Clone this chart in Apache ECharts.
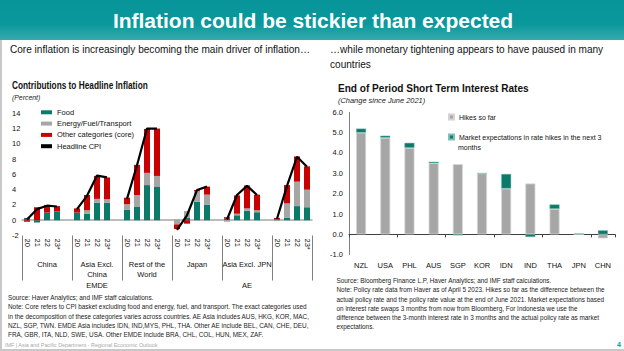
<!DOCTYPE html>
<html>
<head>
<meta charset="utf-8">
<script src="https://cdn.jsdelivr.net/npm/echarts@6/dist/echarts.min.js"></script>
<style>
  html, body { margin: 0; padding: 0; background: #fff; }
  #chart { width: 624px; height: 351px; }
</style>
</head>
<body>
<div id="chart"></div>
<script>
  // left panel: contributions to headline inflation (percent)
  const years = ["20", "21", "22", "23*"];
  const groups = ["China", "Asia Excl.\nChina", "Rest of the\nWorld", "Japan", "Asia Excl. JPN", "Rest of the\nWorld"];
  const regions = ["EMDE", "AE"];
  // 4 values per group, same order as groups
  const food = [0.3, -0.3, 1.0, 1.15, 1.0, 0.85, 2.3, 2.3, 1.4, 1.8, 4.6, 4.35, 0.05, 0.3, 2.4, 2.05, 0.2, 0.65, 1.25, 1.05, 0.1, 0.35, 1.85, 1.7];
  const energy = [0, 0, 0, 0, 0, 0.45, 0.5, 0.45, 0.7, 1.5, 1.6, 1.45, -0.55, 0.9, 1.4, 1.3, -0.2, 0.2, 0.3, 0.25, 0, 1.85, 3.2, 2.3];
  const core = [-0.2, 1.7, 1.0, 0.7, 0.55, 2.0, 3.0, 2.85, 0.85, 3.95, 5.75, 6.2, -0.6, -0.45, 0.15, 1.05, 0.2, 2.4, 3.0, 2.05, 0.2, 2.4, 3.3, 3.05];
  const headline = [0.1, 1.45, 1.9, 1.8, 1.45, 3.2, 5.85, 5.6, 2.8, 7.2, 12.0, 12.0, -1.25, 0.65, 3.95, 4.4, 0.1, 3.3, 4.5, 3.3, 0.2, 4.5, 8.3, 7.0];

  // right panel: short term rates, change since June 2021
  const countries = ["NZL", "USA", "PHL", "AUS", "SGP", "KOR", "IDN", "IND", "THA", "JPN", "CHN"];
  const hikes = [5.0, 4.75, 4.25, 3.5, 3.45, 3.0, 2.25, 2.5, 1.25, 0, -0.2];
  const expectations = [0.2, 0.1, 0.25, 0.07, -0.05, 0, 0.72, -0.13, 0.22, 0.04, 0.2];

  const FONT = "'Liberation Sans', Arial, sans-serif";
  const FOOD = "#0b7a68";
  const GREY = "#a6a6a6";
  const RED = "#c80000";
  const TEAL = "#08979b";

  // one slot per year, a blank slot between groups
  const slots = [];
  groups.forEach((g, gi) => {
    years.forEach((y) => slots.push(gi + "|" + y));
    if (gi < groups.length - 1) slots.push(gi + "|");
  });
  const toSlots = (arr) => {
    const out = [];
    groups.forEach((g, gi) => {
      for (let k = 0; k < years.length; k++) out.push(arr[gi * years.length + k]);
      if (gi < groups.length - 1) out.push("-");
    });
    return out;
  };
  const groupLabelIdx = [2, 7, 12, 17, 22, 26];
  const regionLabelIdx = [7, 22];

  // text squeezed a little to look like the narrow font of the slide
  const txt = (x, y, text, font, fill, align, sx) => ({
    type: "text",
    x: x,
    y: y,
    scaleX: sx || 1,
    style: { text: text, font: font, fill: fill || "#111", align: align || "left", verticalAlign: "middle" },
  });

  const notesLeft = [
    "Source: Haver Analytics; and IMF staff calculations.",
    "Note: Core refers to CPI basket excluding food and energy, fuel, and transport. The exact categories used",
    "in the decomposition of these categories varies across countries. AE Asia includes AUS, HKG, KOR, MAC,",
    "NZL, SGP, TWN. EMDE Asia includes IDN, IND,MYS, PHL, THA. Other AE include BEL, CAN, CHE, DEU,",
    "FRA, GBR, ITA, NLD, SWE, USA. Other EMDE include BRA, CHL, COL, HUN, MEX, ZAF.",
  ];
  const notesRight = [
    "Source: Bloomberg Finance L.P, Haver Analytics; and IMF staff calculations.",
    "Note: Policy rate data from Haver as of April 5 2023. Hikes so far as the difference between the",
    "actual policy rate and the policy rate value at the end of June 2021. Market expectations based",
    "on interest rate swaps 3 months from now from Bloomberg, For Indonesia we use the",
    "difference between the 3-month interest rate in 3 months and the actual policy rate as market",
    "expectations.",
  ];

  const graphics = [
    {
      type: "rect",
      shape: { x: 0, y: 0, width: 624, height: 40 },
      style: {
        fill: new echarts.graphic.LinearGradient(0, 0, 0, 1, [
          { offset: 0, color: "#07959a" },
          { offset: 0.6, color: "#0a989c" },
          { offset: 1, color: "#36aaac" },
        ]),
      },
    },
    txt(313, 20, "Inflation could be stickier than expected", "bold 21px " + FONT, "#fff", "center"),
    txt(10, 49, "Core inflation is increasingly becoming the main driver of inflation…", "10.5px " + FONT, "#111", "left", 0.96),
    txt(330, 49, "…while monetary tightening appears to have paused in many", "10.5px " + FONT, "#111", "left", 0.96),
    txt(330, 64, "countries", "10.5px " + FONT, "#111", "left", 0.96),
    txt(12, 86, "Contributions to Headline Inflation", "bold 10px " + FONT, "#111", "left", 0.83),
    txt(12, 97, "(Percent)", "italic 8px " + FONT, "#222", "left", 0.86),
    txt(338, 88, "End of Period Short Term Interest Rates", "bold 10.5px " + FONT, "#111", "left", 0.96),
    txt(338, 100, "(Change since June 2021)", "italic 8px " + FONT, "#222", "left", 0.93),
    txt(458, 147.5, "months", "7px " + FONT),
    { type: "line", shape: { x1: 1, y1: 40, x2: 1, y2: 351 }, style: { stroke: "#c8c8c8", lineWidth: 2 } },
    { type: "line", shape: { x1: 0, y1: 350, x2: 624, y2: 350 }, style: { stroke: "#c8c8c8", lineWidth: 2 } },
    txt(5, 345, "IMF | Asia and Pacific Department - Regional Economic Outlook", "6px " + FONT, "#a8a8a8", "left", 0.9),
    txt(619, 344, "4", "bold 7px " + FONT, TEAL, "center"),
  ];
  notesLeft.forEach((s, i) => graphics.push(txt(8, 297.5 + i * 9.2, s, "7px " + FONT, "#222", "left", 0.915)));
  notesRight.forEach((s, i) => graphics.push(txt(336.5, 280.7 + i * 9.1, s, "7px " + FONT, "#222", "left", 0.915)));

  const myChart = echarts.init(document.getElementById("chart"), null, { renderer: "svg" });

  const option = {
    animation: false,
    backgroundColor: "#fff",
    textStyle: { fontFamily: FONT },
    graphic: graphics,
    legend: [
      {
        orient: "vertical",
        left: 41,
        top: 106.8,
        padding: 0,
        itemWidth: 11,
        itemHeight: 4,
        itemGap: 0.3,
        textStyle: { fontSize: 7.5, lineHeight: 11, color: "#111", fontFamily: FONT },
        data: [
          { name: "Food", icon: "rect" },
          { name: "Energy/Fuel/Transport", icon: "rect" },
          { name: "Other categories (core)", icon: "rect" },
          { name: "Headline CPI", icon: "rect" },
        ],
      },
      {
        orient: "vertical",
        left: 448,
        top: 112,
        padding: 0,
        itemWidth: 5,
        itemHeight: 5,
        itemGap: 10,
        textStyle: { fontSize: 7, lineHeight: 10, color: "#111", fontFamily: FONT },
        data: [
          { name: "Hikes so far", icon: "rect" },
          { name: "Market expectations in rate hikes in the next 3", icon: "rect" },
        ],
      },
    ],
    grid: [
      { left: 22, right: 312, top: 113.3, bottom: 115.5 },
      { left: 349, right: 9, top: 112.3, bottom: 96.3 },
    ],
    xAxis: [
      // zero line of left panel
      {
        gridIndex: 0,
        type: "category",
        data: slots,
        axisLine: { onZero: true, lineStyle: { color: "#a6a6a6", width: 1.5 } },
        axisTick: { show: false },
        axisLabel: { show: false },
      },
      // year labels
      {
        gridIndex: 0,
        type: "category",
        data: slots,
        position: "bottom",
        axisLine: { show: false, onZero: false },
        axisTick: { show: false },
        axisLabel: {
          interval: 0,
          rotate: -90,
          margin: 3,
          fontSize: 7.5,
          color: "#111",
          formatter: (v) => v.split("|")[1],
        },
      },
      // group labels and separators
      {
        gridIndex: 0,
        type: "category",
        data: slots,
        position: "bottom",
        axisLine: { show: false, onZero: false },
        axisTick: {
          show: true,
          interval: (i) => i % 5 === 0,
          length: 45,
          lineStyle: { color: "#7f7f7f", width: 1 },
        },
        axisLabel: {
          interval: (i) => groupLabelIdx.includes(i),
          margin: 23.5,
          fontSize: 7.5,
          lineHeight: 10.5,
          color: "#111",
          formatter: (v, i) => {
            const gi = +v.split("|")[0];
            if (gi === groups.length - 1) {
              return groups[gi].split("\n").map((s) => "{r|" + s + "}").join("\n");
            }
            return groups[gi];
          },
          rich: { r: { fontSize: 7.5, lineHeight: 10.5, padding: [0, 0, 0, 10], color: "#111", fontFamily: FONT } },
        },
      },
      // region labels
      {
        gridIndex: 0,
        type: "category",
        data: slots,
        position: "bottom",
        axisLine: { show: false, onZero: false },
        axisTick: { show: false },
        axisLabel: {
          interval: (i) => regionLabelIdx.includes(i),
          margin: 45.5,
          fontSize: 7.5,
          color: "#111",
          formatter: (v, i) => regions[i < 15 ? 0 : 1],
        },
      },
      // zero line of right panel
      {
        gridIndex: 1,
        type: "category",
        data: countries,
        axisLine: { onZero: true, lineStyle: { color: "#404040", width: 1 } },
        axisTick: { show: true, length: 3, lineStyle: { color: "#404040" } },
        axisLabel: { show: false },
      },
      {
        gridIndex: 1,
        type: "category",
        data: countries,
        position: "bottom",
        axisLine: { show: false, onZero: false },
        axisTick: { show: false },
        axisLabel: { interval: 0, margin: 7, fontSize: 7.5, color: "#111" },
      },
    ],
    yAxis: [
      {
        gridIndex: 0,
        type: "value",
        min: -2,
        max: 14,
        interval: 2,
        axisLine: { show: false },
        axisTick: { show: false },
        splitLine: { show: false },
        axisLabel: { margin: 10, align: "left", fontSize: 7.5, color: "#111" },
      },
      {
        gridIndex: 1,
        type: "value",
        min: -1,
        max: 6,
        interval: 1,
        axisLine: { show: true, lineStyle: { color: "#808080" } },
        axisTick: { show: false },
        splitLine: { show: false },
        axisLabel: { margin: 6, fontSize: 7.5, color: "#111", formatter: (v) => v.toFixed(1) },
      },
    ],
    series: [
      { name: "Food", type: "bar", stack: "c", xAxisIndex: 0, yAxisIndex: 0, barWidth: 6, itemStyle: { color: FOOD }, data: toSlots(food) },
      { name: "Energy/Fuel/Transport", type: "bar", stack: "c", xAxisIndex: 0, yAxisIndex: 0, barWidth: 6, itemStyle: { color: GREY }, data: toSlots(energy) },
      { name: "Other categories (core)", type: "bar", stack: "c", xAxisIndex: 0, yAxisIndex: 0, barWidth: 6, itemStyle: { color: RED }, data: toSlots(core) },
      {
        name: "Headline CPI",
        type: "line",
        xAxisIndex: 0,
        yAxisIndex: 0,
        symbol: "none",
        connectNulls: false,
        itemStyle: { color: "#000" },
        lineStyle: { color: "#000", width: 2.2 },
        data: toSlots(headline),
        z: 5,
      },
      {
        name: "Hikes so far",
        type: "bar",
        stack: "r",
        xAxisIndex: 4,
        yAxisIndex: 1,
        barWidth: 10,
        itemStyle: { color: GREY, borderColor: "#d4d4d4", borderWidth: 0.8 },
        data: hikes,
      },
      {
        name: "Market expectations in rate hikes in the next 3",
        type: "bar",
        stack: "r",
        xAxisIndex: 4,
        yAxisIndex: 1,
        barWidth: 10,
        itemStyle: { color: FOOD, borderColor: "#7fbfb5", borderWidth: 0.5 },
        data: expectations,
      },
    ],
  };

  option && myChart.setOption(option);
</script>
</body>
</html>
